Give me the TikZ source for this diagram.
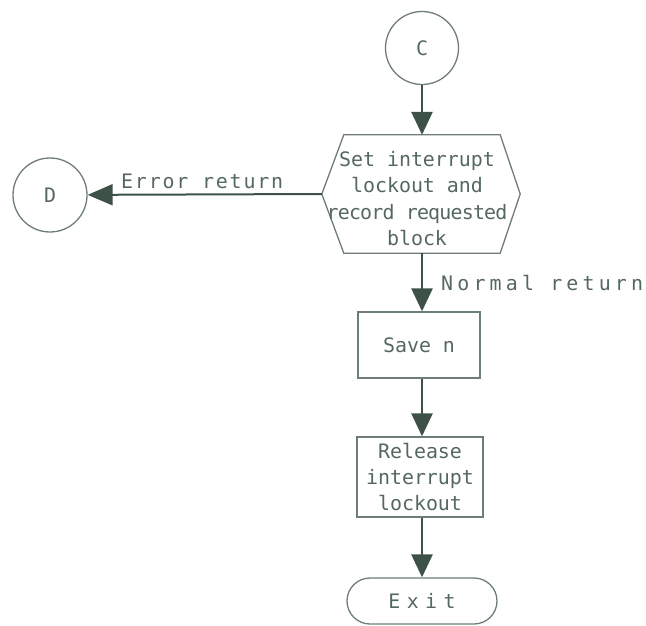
\documentclass[tikz,border=0pt]{standalone}
\usepackage{fontspec}
\setmainfont{DejaVu Sans Mono}
\newfontfamily\labwide{DejaVu Sans Mono}[LetterSpace=9]
\newfontfamily\labwider{DejaVu Sans Mono}[LetterSpace=21]
\newfontfamily\labwidest{DejaVu Sans Mono}[LetterSpace=32]
\newfontfamily\labnarrow{DejaVu Sans Mono}[LetterSpace=-4]
\usetikzlibrary{arrows.meta,calc}
\definecolor{ink}{HTML}{3E5146}
\definecolor{pen}{HTML}{6E7E74}
\definecolor{letter}{HTML}{556860}
\tikzset{
  every node/.style={font=\fontsize{20}{26.5}\selectfont, text=letter, align=center},
  outline/.style={draw=pen, line width=1.3bp},
  flow/.style={draw=ink, line width=2.6bp, -{Triangle[length=23bp,width=21bp]}, fill=ink},
  side/.style={draw=ink, line width=2bp, -{Triangle[length=25bp,width=21bp]}, fill=ink},
  connector/.style={outline, circle, minimum size=73bp, inner sep=0pt},
  process/.style={outline, rectangle, inner sep=0pt},
}
\begin{document}
\begin{tikzpicture}[x=1bp,y=-1bp]
  \useasboundingbox (0,0) rectangle (646,626);

  % connectors
  \node[connector] (c) at (422,48) {C};
  \node[connector, minimum size=74bp] (d) at (50,195) {D};

  % hexagonal preparation step
  \node[minimum width=198bp, minimum height=118bp, inner sep=0pt] (prep) at (421,194) {};
  \draw[outline] (prep.west) -- ($(prep.north west)+(22,0)$) -- ($(prep.north east)+(-20,0)$)
    -- (prep.east) -- ($(prep.south east)+(-20,0)$) -- ($(prep.south west)+(22,0)$) -- cycle;
  \node[inner sep=0pt] (preptext) at (417,198.5)
    {Set interrupt\\lockout and\\{\labnarrow record requested}\\block};

  % processing boxes
  \node[process, minimum width=122bp, minimum height=66bp] (save) at (419,345) {Save n};
  \node[process, minimum width=126bp, minimum height=80bp] (release) at (420,477)
    {Release\\interrupt\\lockout};

  % terminal
  \node[outline, rounded corners=23bp, minimum width=150bp, minimum height=46bp, inner sep=0pt]
    (exit) at (422,601) {\labwidest Exit};

  % flow lines
  \draw[flow] (c) -- (prep.north -| c);
  \draw[side] (prep.west) -- (d);
  \draw[flow] (prep.south -| c) -- (save.north -| c);
  \draw[flow] (save.south -| c) -- (release.north -| c);
  \draw[flow] (release.south -| c) -- (exit.north -| c);

  % labels on the branches
  \node[anchor=west, inner sep=0pt] (errlab) at (121,181) {\labwide Error return};
  \node[anchor=west, inner sep=0pt] (normlab) at (441,283) {\labwider Normal return};
\end{tikzpicture}
\end{document}
